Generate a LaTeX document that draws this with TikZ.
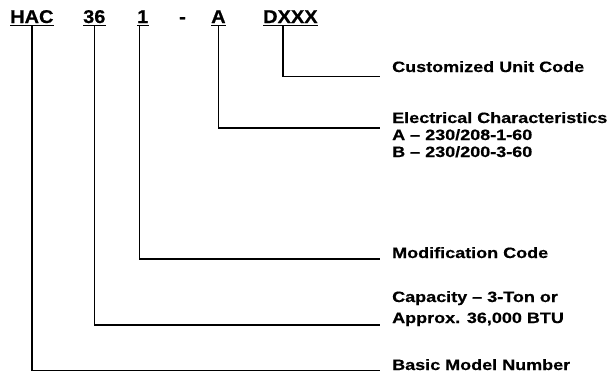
\documentclass[tikz,border=0pt]{standalone}
\usepackage{fontspec}
\setmainfont{Liberation Sans}
\newfontfamily\codefont[FakeStretch=1.08,FakeBold=0.6]{Liberation Sans}
\newfontfamily\labfont[FakeStretch=1.2,FakeBold=0.5]{Liberation Sans}
\begin{document}
\begin{tikzpicture}[x=1pt,y=1pt]
\useasboundingbox (0,0) rectangle (612,-375);
\tikzset{
  code/.style={inner sep=0pt, anchor=base west, font=\codefont\bfseries\fontsize{18.5}{20}\selectfont},
  lab/.style={inner sep=0pt, anchor=base west, font=\labfont\bfseries\fontsize{15}{17}\selectfont},
  conn/.style={line width=1.5pt},
  ul/.style={line width=1.7pt}
}
% code characters
\node[code] (hac) at (10,-23) {HAC};
\node[code] (n36) at (83,-23) {36};
\node[code] (n1) at (137,-23) {1};
\node[code] (dash) at (179,-23) {-};
\node[code] (na) at (211,-23) {A};
\node[code] (dx) at (263,-23) {DXXX};
\foreach \n in {hac,n36,n1,na,dx}
  \draw[ul] ([yshift=-2.5pt]\n.base west) -- ([yshift=-2.5pt]\n.base east);
% labels
\node[lab] (cu) at (392,-72) {Customized Unit Code};
\node[lab] (el) at (392,-123) {Electrical Characteristics};
\node[lab] (ela) at (392,-140) {A – 230/208-1-60};
\node[lab] (elb) at (392,-157) {B – 230/200-3-60};
\node[lab] (mo) at (392,-258) {Modification Code};
\node[lab] (ca) at (392,-302) {Capacity – 3-Ton or};
\node[lab] (ap) at (392,-323) {Approx. 36,000 BTU};
\node[lab] (bm) at (392,-370) {Basic Model Number};
% connectors
\draw[conn] ([yshift=-2.5pt]hac.base) |- ([xshift=-12pt,yshift=-0.5pt]bm.base west);
\draw[conn] ([yshift=-2.5pt]n36.base) |- ([xshift=-12pt,yshift=-2pt]ap.base west);
\draw[conn] ([xshift=-3.5pt,yshift=-2.5pt]n1.base) |- ([xshift=-12pt,yshift=-1pt]mo.base west);
\draw[conn] ([yshift=-2.5pt]na.base) |- ([xshift=-12pt,yshift=-5pt]el.base west);
\draw[conn] ([xshift=20pt,yshift=-2.5pt]dx.base west) |- ([xshift=-12pt,yshift=-4.7pt]cu.base west);
\end{tikzpicture}
\end{document}
